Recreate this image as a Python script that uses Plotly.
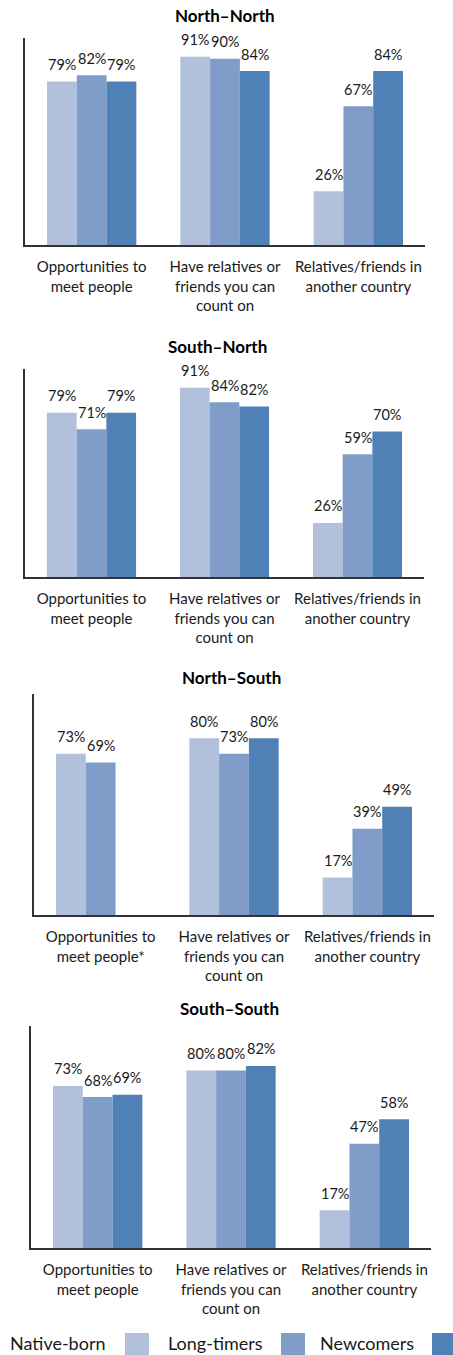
import plotly.graph_objects as go

# ---------------- data ----------------
series_names = ["Native-born", "Long-timers", "Newcomers"]
series_colors = ["#b1c1dc", "#7f9dc8", "#4f81b7"]

panel_titles = ["North\u2013North", "South\u2013North", "North\u2013South", "South\u2013South"]

cats_default = ["Opportunities to<br>meet people",
                "Have relatives or<br>friends you can<br>count on",
                "Relatives/friends in<br>another country"]
cats_ns = ["Opportunities to<br>meet people*",
           "Have relatives or<br>friends you can<br>count on",
           "Relatives/friends in<br>another country"]

nn_native = [79, 91, 26]
nn_long = [82, 90, 67]
nn_new = [79, 84, 84]

sn_native = [79, 91, 26]
sn_long = [71, 84, 59]
sn_new = [79, 82, 70]

ns_native = [73, 80, 17]
ns_long = [69, 73, 39]
ns_new = [None, 80, 49]

ss_native = [73, 80, 17]
ss_long = [68, 80, 47]
ss_new = [69, 82, 58]

panels = [
    (cats_default, [nn_native, nn_long, nn_new]),
    (cats_default, [sn_native, sn_long, sn_new]),
    (cats_ns, [ns_native, ns_long, ns_new]),
    (cats_default, [ss_native, ss_long, ss_new]),
]

# ---------------- layout geometry (pixels) ----------------
W, H = 453, 1355
FONT = "Lato"
# (x0, x1, ytop, ybottom, title_x, title_y)
geom = [
    (25, 425, 38, 245, 225, 16),
    (25, 424, 369, 577, 217, 347),
    (34, 434, 694, 915, 232, 677),
    (31, 431, 1026, 1248, 229, 1008),
]

def px(x):
    return x / W

def py(y):
    return 1 - y / H

BARGAP = 0.33
bw = (1 - BARGAP) / 3

fig = go.Figure()
annotations = []

for k, ((cats, vals), (x0, x1, yt, yb, tx, ty)) in enumerate(zip(panels, geom)):
    ax = "" if k == 0 else str(k + 1)
    for j, (name, col, v) in enumerate(zip(series_names, series_colors, vals)):
        fig.add_trace(go.Bar(
            x=cats, y=v, name=name, marker_color=col,
            marker_line_width=0, showlegend=False,
            xaxis="x" + ax, yaxis="y" + ax,
        ))
        for i, val in enumerate(v):
            if val is None:
                continue
            annotations.append(dict(
                x=i + (j - 1) * bw, y=val, xref="x" + ax, yref="y" + ax,
                text=f"{val}%", showarrow=False, yanchor="middle", yshift=17,
                font=dict(family=FONT, size=14.5, color="#1a1a1a"),
            ))
    fig.layout["xaxis" + ax] = dict(
        domain=[px(x0), px(x1)], anchor="y" + ax,
        range=[-0.5, 2.5], showline=True, linecolor="#333333", linewidth=2,
        ticks="", showgrid=False, zeroline=False, ticklabelstandoff=7,
        tickfont=dict(family=FONT, size=15, color="#1a1a1a"),
        fixedrange=True,
    )
    fig.layout["yaxis" + ax] = dict(
        domain=[py(yb), py(yt)], anchor="x" + ax,
        range=[0, 100], showline=True, linecolor="#333333", linewidth=1.5,
        ticks="", showticklabels=False, showgrid=False, zeroline=False,
        fixedrange=True,
    )
    annotations.append(dict(
        x=px(tx), y=py(ty), xref="paper", yref="paper", text=f"<b>{panel_titles[k]}</b>",
        showarrow=False, xanchor="center", yanchor="middle",
        font=dict(family=FONT, size=17, color="#000000"),
    ))

# ---------------- custom legend (label then swatch) ----------------
legend_text_cx = [58, 215, 367]
legend_box_x0 = [125, 281, 432]
shapes = []
for name, col, cx, bx in zip(series_names, series_colors, legend_text_cx, legend_box_x0):
    annotations.append(dict(
        x=px(cx), y=py(1343), xref="paper", yref="paper", text=name,
        showarrow=False, xanchor="center", yanchor="middle",
        font=dict(family=FONT, size=18, color="#1a1a1a"),
    ))
    shapes.append(dict(
        type="rect", xref="paper", yref="paper",
        x0=px(bx), x1=px(bx + 24), y0=py(1357), y1=py(1333),
        fillcolor=col, line=dict(width=0),
    ))

fig.update_layout(
    width=W, height=H,
    margin=dict(l=0, r=0, t=0, b=0),
    paper_bgcolor="white", plot_bgcolor="white",
    barmode="group", bargap=BARGAP, bargroupgap=0,
    annotations=annotations, shapes=shapes,
    showlegend=False,
    font=dict(family=FONT),
)

fig.write_html("out.html", config={"displayModeBar": False},
               post_script="document.body.style.margin='0px';document.body.style.overflow='hidden';")
